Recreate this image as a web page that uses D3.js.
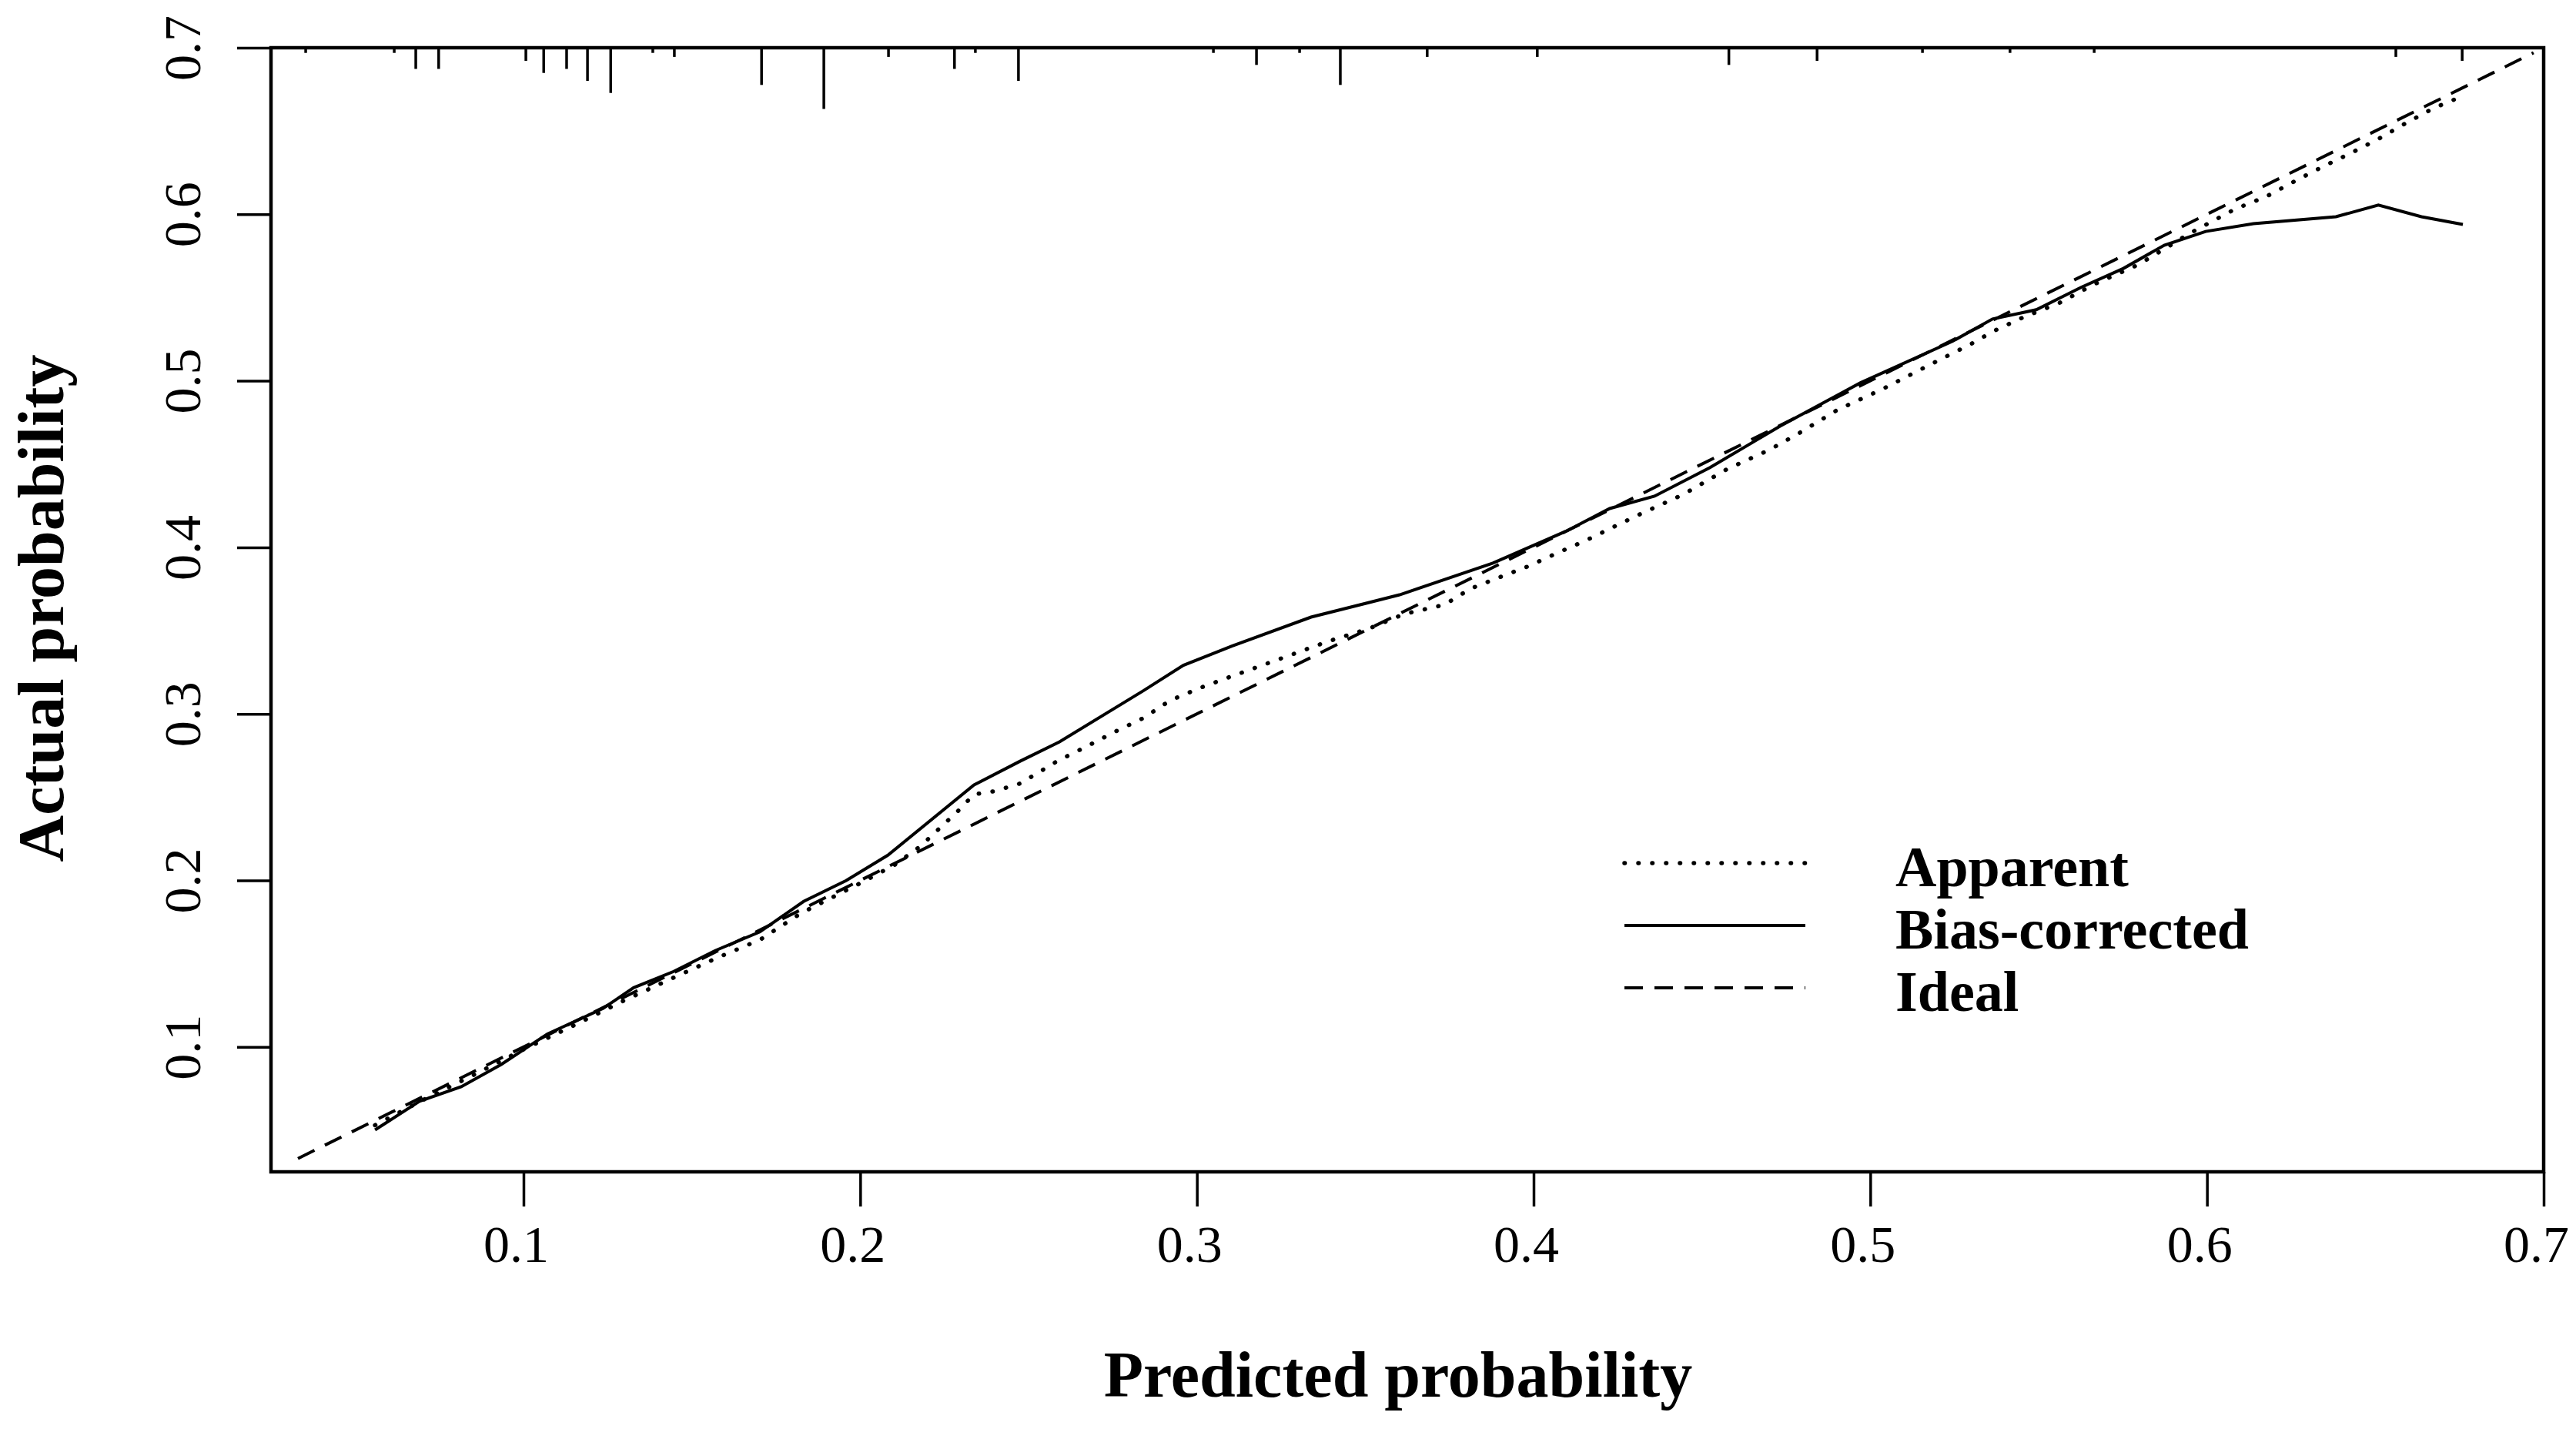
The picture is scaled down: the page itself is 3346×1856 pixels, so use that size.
<!DOCTYPE html>
<html>
<head>
<meta charset="utf-8">
<script src="https://cdn.jsdelivr.net/npm/d3@7"></script>
<style>
  html, body { margin: 0; padding: 0; background: #fff; }
  text { font-family: "Liberation Serif", "Times New Roman", serif; fill: #000; }
</style>
</head>
<body>
<svg id="chart"></svg>
<script>
// Calibration curve data
const apparentX = [0.0559, 0.070, 0.085, 0.100, 0.115, 0.130, 0.145, 0.1576, 0.1702, 0.1825, 0.1997, 0.2102, 0.218, 0.2292, 0.2338, 0.2397, 0.2475, 0.2585, 0.2672, 0.2763, 0.2841, 0.2921, 0.3012, 0.309, 0.3223, 0.3392, 0.3511, 0.3616, 0.3735, 0.3813, 0.3897, 0.3984, 0.4069, 0.4153, 0.4233, 0.4318, 0.4444, 0.4574, 0.470, 0.4784, 0.4903, 0.5034, 0.5166, 0.5297, 0.537, 0.5454, 0.556, 0.5665, 0.5795, 0.5953, 0.6085, 0.6175, 0.626, 0.6344, 0.6429, 0.6509, 0.6589, 0.6673, 0.676];
const apparentY = [0.053, 0.068, 0.083, 0.0985, 0.113, 0.128, 0.142, 0.1536, 0.1643, 0.1804, 0.198, 0.2093, 0.2207, 0.242, 0.2517, 0.2535, 0.2582, 0.2716, 0.2804, 0.2899, 0.2975, 0.3081, 0.3158, 0.3216, 0.3313, 0.3437, 0.3512, 0.360, 0.3655, 0.3752, 0.3819, 0.3886, 0.3965, 0.4039, 0.4118, 0.4201, 0.4317, 0.4469, 0.4585, 0.468, 0.4826, 0.4948, 0.5085, 0.5219, 0.5302, 0.5381, 0.5466, 0.558, 0.5696, 0.589, 0.6033, 0.6105, 0.6198, 0.6286, 0.6369, 0.6452, 0.6545, 0.6637, 0.671];

const biasX = [0.0559, 0.0691, 0.0815, 0.0934, 0.1071, 0.1236, 0.1327, 0.1446, 0.1569, 0.1702, 0.1832, 0.1958, 0.2082, 0.2338, 0.2475, 0.2592, 0.2841, 0.296, 0.3104, 0.3339, 0.3602, 0.3879, 0.410, 0.4226, 0.4359, 0.4524, 0.4732, 0.497, 0.5244, 0.5363, 0.5493, 0.5626, 0.5752, 0.5873, 0.5996, 0.6138, 0.6383, 0.6509, 0.6637, 0.676];
const biasY = [0.0502, 0.0674, 0.0761, 0.0895, 0.1078, 0.1231, 0.1356, 0.1453, 0.1578, 0.1691, 0.1874, 0.1999, 0.2151, 0.2573, 0.2716, 0.2832, 0.3139, 0.3292, 0.3407, 0.3581, 0.3715, 0.3905, 0.410, 0.4233, 0.4307, 0.4479, 0.4728, 0.4987, 0.5237, 0.5371, 0.5427, 0.5561, 0.5675, 0.5814, 0.5897, 0.5944, 0.5985, 0.6055, 0.5985, 0.5939];

const idealEnds = [0.033, 0.697];

// Rug of predicted probabilities (top of the frame) and relative frequencies
const rugX = [0.0353, 0.0616, 0.068, 0.0748, 0.1007, 0.106, 0.1128, 0.119, 0.1259, 0.1384, 0.1448, 0.1707, 0.1892, 0.2084, 0.228, 0.2342, 0.247, 0.3049, 0.3177, 0.3305, 0.3426, 0.3684, 0.4011, 0.458, 0.4842, 0.5155, 0.5415, 0.5665, 0.6561, 0.6758];
const rugFreq = [1, 1, 5, 5, 3, 6, 5, 8, 11, 1, 2, 9, 15, 2, 5, 1, 8, 1, 4, 1, 9, 2, 2, 4, 3, 1, 1, 1, 2, 3];

const xTicks = [0.1, 0.2, 0.3, 0.4, 0.5, 0.6, 0.7];
const yTicks = [0.1, 0.2, 0.3, 0.4, 0.5, 0.6, 0.7];

const legendLabels = ["Apparent", "Bias-corrected", "Ideal"];
const legendDash = ["0.5,17.5", null, "24,15"];

// Layout
const width = 3346, height = 1856;
const frame = { left: 352, right: 3304, top: 62, bottom: 1522 };
const serif = '"Liberation Serif", "Times New Roman", serif';

const svg = d3.select("#chart")
    .attr("width", width)
    .attr("height", height);

svg.append("rect").attr("width", width).attr("height", height).attr("fill", "#fff");

const x = d3.scaleLinear().domain([0.025, 0.7]).range([frame.left, frame.right]);
const y = d3.scaleLinear().domain([0.025, 0.7]).range([frame.bottom, frame.top]);

// Axes
const xAxis = svg.append("g")
    .attr("transform", `translate(0,${frame.bottom})`)
    .call(d3.axisBottom(x).tickValues(xTicks).tickSize(45).tickPadding(24).tickFormat(d3.format(".1f")));
xAxis.select(".domain").remove();
xAxis.selectAll("line").attr("stroke-width", 3.5);
xAxis.selectAll("text").attr("font-size", 68).attr("fill", "#000")
    .attr("font-family", serif)
    .attr("dx", -10);

const yAxis = svg.append("g")
    .attr("transform", `translate(${frame.left},0)`)
    .call(d3.axisLeft(y).tickValues(yTicks).tickSize(44).tickPadding(0).tickFormat(d3.format(".1f")));
yAxis.select(".domain").remove();
yAxis.selectAll("line").attr("stroke-width", 3.5);
yAxis.selectAll("text")
    .attr("font-size", 68).attr("fill", "#000")
    .attr("font-family", serif)
    .attr("x", null).attr("dy", null)
    .attr("text-anchor", "middle")
    .attr("transform", "translate(-92,0) rotate(-90)");

// Frame
svg.append("rect")
    .attr("x", frame.left).attr("y", frame.top)
    .attr("width", frame.right - frame.left).attr("height", frame.bottom - frame.top)
    .attr("fill", "none").attr("stroke", "#000").attr("stroke-width", 4.5);

// Rug
const rugLen = d3.scaleLinear().domain([0, 15]).range([1.5, 79.5]);
svg.append("g").selectAll("line")
    .data(rugX.map((v, i) => ({ v, f: rugFreq[i] })))
    .enter().append("line")
    .attr("x1", d => x(d.v)).attr("x2", d => x(d.v))
    .attr("y1", frame.top).attr("y2", d => frame.top + rugLen(d.f))
    .attr("stroke", "#000").attr("stroke-width", 3.5);

// Curves
const line = d3.line().x(d => x(d[0])).y(d => y(d[1]));

svg.append("path")
    .datum(idealEnds.map(v => [v, v]))
    .attr("d", line)
    .attr("fill", "none").attr("stroke", "#000").attr("stroke-width", 4)
    .attr("stroke-dasharray", legendDash[2]);

svg.append("path")
    .datum(apparentX.map((v, i) => [v, apparentY[i]]))
    .attr("d", line)
    .attr("fill", "none").attr("stroke", "#000").attr("stroke-width", 5.5)
    .attr("stroke-linecap", "round")
    .attr("stroke-dasharray", legendDash[0]);

svg.append("path")
    .datum(biasX.map((v, i) => [v, biasY[i]]))
    .attr("d", line)
    .attr("fill", "none").attr("stroke", "#000").attr("stroke-width", 4);

// Legend
const legend = svg.append("g");
legendLabels.forEach((lab, i) => {
    const base = 1151 + i * 81;
    const l = legend.append("line")
        .attr("x1", 2110).attr("x2", 2345)
        .attr("y1", base - 30).attr("y2", base - 30)
        .attr("stroke", "#000").attr("stroke-width", i === 0 ? 5.5 : 4);
    if (legendDash[i]) l.attr("stroke-dasharray", legendDash[i]);
    if (i === 0) l.attr("stroke-linecap", "round");
    legend.append("text")
        .attr("x", 2462).attr("y", base)
        .attr("font-size", 74).attr("font-weight", "bold")
        .text(lab);
});

// Axis titles
svg.append("text")
    .attr("x", 1816).attr("y", 1814)
    .attr("text-anchor", "middle")
    .attr("font-size", 84).attr("font-weight", "bold")
    .text("Predicted probability");

svg.append("text")
    .attr("transform", "translate(82,790) rotate(-90)")
    .attr("text-anchor", "middle")
    .attr("font-size", 84).attr("font-weight", "bold")
    .text("Actual probability");
</script>
</body>
</html>
